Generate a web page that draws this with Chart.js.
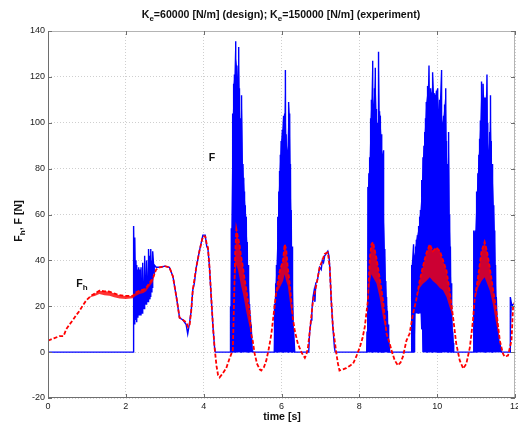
<!DOCTYPE html>
<html>
<head>
<meta charset="utf-8">
<title>F and Fh vs time</title>
<script src="https://cdn.jsdelivr.net/npm/chart.js@4.4.0/dist/chart.umd.min.js"></script>
<style>
  html, body { margin: 0; padding: 0; overflow: hidden; background: #fff; }
  #wrap { position: relative; width: 530px; height: 425px; }
</style>
</head>
<body>
<div id="wrap"><canvas id="chart" width="530" height="425"></canvas></div>
<script>
// F (blue): at each time the trace runs from fFloor up to fPeak (dense oscillation bursts)
const fTime = [
  0, 2.19, 2.20, 2.23, 2.26, 2.28, 2.31, 2.33, 2.36, 2.39, 2.42, 2.44, 2.47, 2.49, 2.52, 2.54, 2.57, 2.59, 2.62, 2.64, 2.67, 2.69, 2.73,
  2.78, 2.9, 3.0, 3.12, 3.21, 3.30, 3.38, 3.47, 3.55, 3.59, 3.63, 3.68, 3.72, 3.76, 3.81, 3.89, 3.98, 4.04, 4.08, 4.11, 4.15, 4.20, 4.24, 4.28, 4.30, 4.68,
  4.69, 4.71, 4.735, 4.75, 4.77, 4.79, 4.81, 4.83, 4.855, 4.88, 4.90, 4.92, 4.94, 4.96, 4.98, 5.01, 5.03, 5.05, 5.07, 5.095, 5.12, 5.14, 5.16, 5.18, 5.20, 5.22, 5.25, 5.27, 5.80,
  5.82, 5.85, 5.87, 5.89, 5.91, 5.93, 5.95, 5.97, 5.99, 6.02, 6.04, 6.06, 6.08, 6.10, 6.12, 6.15, 6.17, 6.19, 6.21, 6.23, 6.25, 6.27, 6.29, 6.31, 6.34, 6.70,
  6.72, 6.76, 6.78, 6.81, 6.84, 6.86, 6.88, 6.92, 6.95, 6.98, 7.02, 7.05, 7.08, 7.11, 7.15, 7.19, 7.22, 7.24, 7.28, 7.32, 7.36, 7.38, 8.17,
  8.196, 8.22, 8.245, 8.265, 8.29, 8.31, 8.33, 8.35, 8.37, 8.39, 8.41, 8.44, 8.46, 8.48, 8.50, 8.52, 8.54, 8.565, 8.58, 8.61, 8.63, 8.655, 8.68, 8.70, 8.72, 8.74, 8.76, 8.78, 9.33,
  9.34, 9.35, 9.38, 9.40, 9.42, 9.445, 9.465, 9.49, 9.51, 9.53, 9.55, 9.57, 9.59, 9.61, 9.635, 9.66, 9.68, 9.70, 9.72, 9.74, 9.76, 9.79, 9.81, 9.83, 9.85, 9.87, 9.89, 9.92, 9.95, 9.98,
  10.00, 10.02, 10.05, 10.07, 10.10, 10.12, 10.14, 10.165, 10.19, 10.22, 10.24, 10.26, 10.28, 10.30, 10.32, 10.34, 10.36, 10.38, 10.40, 10.42, 10.43, 10.93,
  10.94, 10.96, 10.98, 11.00, 11.02, 11.045, 11.07, 11.09, 11.11, 11.14, 11.16, 11.18, 11.21, 11.23, 11.25, 11.28, 11.30, 11.32, 11.35, 11.37,
  11.39, 11.41, 11.43, 11.455, 11.48, 11.50, 11.52, 11.56, 11.61, 11.65, 11.87, 11.88, 11.92, 11.96,
];
const fFloor = [
  0, 0, 0, 12, 14, 13, 15, 16, 16, 16, 17, 18, 19, 20, 21, 21, 22, 22, 23, 24, 26, 28, 34,
  37, 37, 37.5, 37, 33, 24, 15, 14, 12, 8, 12, 18, 27, 30, 37, 44, 51, 51, 46, 45, 37, 22, 11, 2, 0, 0,
  0, 0, 0, 0, 0, 0, 0, 0, 0, 0, 0, 0, 0, 0, 0, 0, 0, 0, 0, 0, 0, 0, 0, 0, 0, 0, 0, 0, 0,
  0, 0, 0, 0, 0, 0, 0, 0, 0, 0, 0, 0, 0, 0, 0, 0, 0, 0, 0, 0, 0, 0, 0, 0, 0, 0,
  8, 14, 18, 24, 27, 22, 30, 31, 34, 37, 36, 40, 39, 42, 43, 44, 42, 37, 22, 11, 2, 0, 0,
  0, 0, 0, 0, 0, 0, 0, 0, 0, 0, 0, 0, 0, 0, 0, 0, 0, 0, 0, 0, 0, 0, 0, 0, 0, 0, 0, 0, 0,
  0, 0, 0, 0, 0, 17, 17, 17, 17, 17, 17, 17, 17, 10, 0, 0, 0, 0, 0, 0, 0, 0, 0, 0, 0, 0, 0, 0, 0, 0,
  0, 0, 0, 0, 0, 0, 0, 0, 0, 0, 0, 0, 0, 0, 0, 0, 0, 0, 0, 0, 0, 0,
  0, 0, 0, 0, 0, 0, 0, 0, 0, 0, 0, 0, 0, 0, 0, 0, 0, 0, 0, 0,
  0, 0, 0, 0, 0, 0, 0, 0, 0, 0, 0, 0, 20, 21,
];
const fPeak = [
  0, 0, 55, 50, 40, 38, 36, 37, 36, 37, 39, 38, 42, 41, 38, 40, 44, 45, 42, 45, 40, 44, 38,
  37, 37, 37.5, 37, 33, 24, 15, 14, 12, 8, 12, 18, 27, 30, 37, 44, 51, 51, 46, 45, 37, 22, 11, 2, 0, 0,
  20, 54, 91, 104, 117, 121, 135.5, 128, 125, 120, 133, 115, 102, 98, 112, 82, 76, 70, 64, 59, 48, 38, 30, 21, 16, 12, 1, 0, 0,
  21, 30, 38, 48, 59, 70, 79, 86, 92, 97, 103, 100, 104, 123, 95, 88, 100, 109, 104, 82, 62, 46, 28, 10, 0, 0,
  8, 14, 18, 24, 27, 22, 30, 31, 34, 37, 36, 40, 39, 42, 43, 44, 42, 37, 22, 11, 2, 0, 0,
  9, 72, 78, 85, 102, 110, 127, 112, 108, 115, 124, 106, 100, 98, 131, 105, 103, 95, 86, 88, 59, 45, 31, 24, 18, 12, 6, 0, 0,
  20, 38, 47, 44, 42, 46, 49, 51, 53, 55, 59, 62, 67, 75, 85, 90, 96, 102, 109, 112, 116, 125, 111, 115, 113, 116, 122, 113, 112, 114,
  115, 112, 105, 110, 123, 104, 100, 103, 108, 115, 92, 82, 75, 96, 60, 46, 30, 17, 9, 4, 0, 0,
  53, 52, 53, 62, 70, 78, 86, 93, 101, 118, 110, 117, 111, 108, 111, 121, 100, 88, 96, 112,
  92, 82, 76, 64, 53, 38, 24, 9, 4, 0, 0, 24, 20, 21,
];

// Fh (red, dashed): upper and lower edge of the noisy trace
const fhTime = [
  0, 0.15, 0.3, 0.4, 0.47, 0.55, 0.64, 0.72, 0.81, 0.9,
  0.98, 1.1, 1.2, 1.32, 1.45, 1.58, 1.7, 1.84, 2.0, 2.18,
  2.25, 2.35, 2.45, 2.52, 2.6, 2.69, 2.78, 2.87, 3.0, 3.12,
  3.21, 3.3, 3.38, 3.47, 3.55, 3.6, 3.64, 3.68, 3.72, 3.81,
  3.89, 3.98, 4.04, 4.08, 4.11, 4.15, 4.2, 4.24, 4.28, 4.33,
  4.37, 4.41, 4.48, 4.58, 4.66, 4.75, 4.78, 4.81, 4.84, 4.88,
  4.92, 4.96, 5.01, 5.05, 5.09, 5.14, 5.18, 5.22, 5.26, 5.31,
  5.37, 5.44, 5.48, 5.55, 5.61, 5.68, 5.74, 5.82, 5.86, 5.95,
  6.04, 6.08, 6.12, 6.16, 6.21, 6.25, 6.29, 6.34, 6.42, 6.51,
  6.56, 6.6, 6.64, 6.68, 6.72, 6.81, 6.9, 6.98, 7.05, 7.11,
  7.19, 7.24, 7.28, 7.32, 7.41, 7.45, 7.49, 7.58, 7.66, 7.75,
  7.84, 7.92, 8.01, 8.08, 8.14, 8.22, 8.27, 8.31, 8.35, 8.44,
  8.52, 8.61, 8.7, 8.78, 8.84, 8.91, 8.99, 9.06, 9.12, 9.21,
  9.29, 9.38, 9.46, 9.55, 9.63, 9.72, 9.81, 9.89, 9.98, 10.07,
  10.15, 10.24, 10.32, 10.41, 10.49, 10.58, 10.67, 10.75, 10.84, 10.92,
  10.96, 11.05, 11.14, 11.22, 11.28, 11.35, 11.43, 11.52, 11.61, 11.69,
  11.73, 11.82, 11.91, 11.95, 12,
];
const fhUpper = [
  5, 6, 7, 7, 10, 12, 14, 16, 18, 20.5,
  22.5, 24.5, 25.5, 26.8, 26.5, 26.4, 25.6, 24.8, 24.5, 24.5,
  26, 26.8, 27.2, 28, 30, 32, 36, 37, 37.5, 37,
  33, 24, 15, 14, 13, 11, 12, 18, 27, 37,
  44, 50.5, 50.5, 47, 45.6, 37, 22.5, 11, 2, -6,
  -10, -11, -9.5, -7, -3, 1, 22, 43, 53.6, 50,
  47, 42, 37, 32, 28, 22, 18, 8, 5, -0.6,
  -5, -7.5, -8, -6.5, -3.6, 2, 8, 19.6, 25.5, 35,
  40, 47, 45, 37, 30, 22.5, 15, 9.4, 3.7, 0,
  -1.5, -2.5, -1, 2, 8, 22.5, 29.7, 37, 40, 42.8,
  43.5, 37, 22.5, 11, -0.6, -5, -8, -7.5, -7, -6,
  -5, -2, 2, 6, 11, 22.5, 41, 47, 48, 41,
  32.6, 22.5, 8, 3.7, 0, -3.6, -5.8, -4.5, -2, 5,
  8, 16.8, 22.5, 31, 37, 43, 47, 44, 45.6, 44,
  40, 35.5, 26.8, 15, 3.7, -3.6, -7.2, -5, 2, 13.8,
  22.5, 32.6, 44, 48, 44, 37, 28, 18, 5, -0.6,
  -2, -1.5, 5, 19.6, 22,
];
const fhLower = [
  5, 6, 7, 7, 10, 12, 14, 16, 18, 20.5,
  22.5, 24, 24.5, 25.3, 24.8, 24.6, 23.9, 23.4, 23.2, 23.5,
  24.5, 25.3, 25.8, 26.5, 28.5, 30.5, 36, 37, 37.5, 37,
  33, 24, 15, 14, 13, 11, 12, 18, 27, 37,
  44, 50.5, 50.5, 47, 45.6, 37, 22.5, 11, 2, -6,
  -10, -11, -9.5, -7, -3, 1, 22, 33, 38, 36,
  32.5, 29, 25.5, 22, 18, 14, 11, 8, 5, -0.6,
  -5, -7.5, -8, -6.5, -3.6, 2, 8, 19.6, 25.5, 28,
  31, 34, 31, 29, 22.5, 18, 15, 9.4, 3.7, 0,
  -1.5, -2.5, -1, 2, 8, 22.5, 29.7, 37, 40, 42.8,
  43.5, 37, 22.5, 11, -0.6, -5, -8, -7.5, -7, -6,
  -5, -2, 2, 6, 11, 22.5, 30, 34, 32.6, 30,
  24, 15, 8, 3.7, 0, -3.6, -5.8, -4.5, -2, 5,
  8, 16.8, 22.5, 28, 29.7, 31, 32.6, 31, 29.7, 28,
  27, 24, 19.6, 15, 3.7, -3.6, -7.2, -5, 2, 13.8,
  22.5, 28, 31, 32.6, 30, 27, 21, 12, 5, -0.6,
  -2, -1.5, 5, 19.6, 22,
];

const xTicks = [0, 2, 4, 6, 8, 10, 12];
const yTicks = [-20, 0, 20, 40, 60, 80, 100, 120, 140];

const FONT = "'Liberation Sans', Arial, Helvetica, sans-serif";

// F: go up from the floor to the peak at each sample
const fPoints = [];
fTime.forEach((t, i) => {
  fPoints.push({ x: t, y: fFloor[i] });
  if (fPeak[i] !== fFloor[i]) fPoints.push({ x: t, y: fPeak[i] });
});
// solid body of the later bursts (the first burst near 2.2 s stays open)
const fPeakPoints = fTime.map((t, i) => ({ x: t, y: fPeak[i] })).filter((p) => p.x >= 4.6);
const fFloorPoints = fTime.map((t, i) => ({ x: t, y: fFloor[i] })).filter((p) => p.x >= 4.6);
const fhUpperPoints = fhTime.map((t, i) => ({ x: t, y: fhUpper[i] }));
const fhLowerPoints = fhTime.map((t, i) => ({ x: t, y: fhLower[i] }));

// text with subscripts, parts = [[text, isSub], ...], centred on (cx, cy)
function drawRich(c, parts, cx, cy, size, weight) {
  const subSize = Math.round(size * 0.75);
  const widths = parts.map(([txt, sub]) => {
    c.font = `${weight} ${sub ? subSize : size}px ${FONT}`;
    return c.measureText(txt).width;
  });
  const total = widths.reduce((a, b) => a + b, 0);
  let x = cx - total / 2;
  c.textAlign = 'left';
  c.textBaseline = 'middle';
  parts.forEach(([txt, sub], i) => {
    c.font = `${weight} ${sub ? subSize : size}px ${FONT}`;
    c.fillText(txt, x, cy + (sub ? size * 0.35 : 0));
    x += widths[i];
  });
}

const decorPlugin = {
  id: 'decor',
  afterDraw(chart) {
    const c = chart.ctx;
    const { left, right, top, bottom } = chart.chartArea;
    const xs = chart.scales.x;
    const ys = chart.scales.y;
    c.save();

    // axes box
    c.lineWidth = 1;
    c.strokeStyle = '#b4b4b4';
    c.beginPath();
    c.moveTo(left, top + 0.5); c.lineTo(right, top + 0.5);
    c.moveTo(right - 0.5, top); c.lineTo(right - 0.5, bottom);
    c.stroke();
    c.strokeStyle = '#6e6e6e';
    c.beginPath();
    c.moveTo(left + 0.5, top); c.lineTo(left + 0.5, bottom);
    c.moveTo(left, bottom - 0.5); c.lineTo(right, bottom - 0.5);
    c.stroke();

    // inward ticks
    c.beginPath();
    xTicks.forEach((v) => {
      const px = Math.round(xs.getPixelForValue(v)) + 0.5;
      c.moveTo(px, bottom); c.lineTo(px, bottom - 4);
      c.moveTo(px, top); c.lineTo(px, top + 4);
    });
    yTicks.forEach((v) => {
      const py = Math.round(ys.getPixelForValue(v)) + 0.5;
      c.moveTo(left, py); c.lineTo(left + 4, py);
      c.moveTo(right, py); c.lineTo(right - 4, py);
    });
    c.stroke();

    c.fillStyle = '#111';
    drawRich(c, [['K', false], ['e', true], ['=60000 [N/m] (design); K', false], ['e', true], ['=150000 [N/m] (experiment)', false]], 281, 15, 10.6, 'bold');
    drawRich(c, [['time [s]', false]], 282, 417, 10.6, 'bold');

    c.save();
    c.translate(19, 221);
    c.rotate(-Math.PI / 2);
    drawRich(c, [['F', false], ['h', true], [', F [N]', false]], 0, 0, 10.6, 'bold');
    c.restore();

    drawRich(c, [['F', false]], 212, 158, 10.6, 'bold');
    drawRich(c, [['F', false], ['h', true]], 82, 284, 10.6, 'bold');

    c.restore();
  },
};

new Chart(document.getElementById('chart'), {
  type: 'line',
  data: {
    datasets: [
      {
        label: 'Fh',
        data: fhUpperPoints,
        borderColor: '#ff0000',
        borderWidth: 1.8,
        borderDash: [4, 2],
        pointRadius: 0,
        fill: false,
      },
      {
        label: 'Fh lower',
        data: fhLowerPoints,
        borderColor: 'rgba(0,0,0,0)',
        borderWidth: 0,
        backgroundColor: 'rgba(255, 0, 0, 0.8)',
        pointRadius: 0,
        fill: '-1',
      },
      {
        label: 'F',
        data: fPoints,
        borderColor: '#0000ff',
        borderWidth: 1.4,
        pointRadius: 0,
        fill: false,
      },
      {
        label: 'F peak',
        data: fPeakPoints,
        borderColor: 'rgba(0,0,0,0)',
        borderWidth: 0,
        backgroundColor: '#0000ff',
        pointRadius: 0,
        fill: '+1',
      },
      {
        label: 'F floor',
        data: fFloorPoints,
        borderColor: 'rgba(0,0,0,0)',
        borderWidth: 0,
        pointRadius: 0,
        fill: false,
      },
    ],
  },
  options: {
    responsive: false,
    animation: false,
    layout: { padding: { left: 0, right: 15, top: 31, bottom: 0 } },
    plugins: {
      legend: { display: false },
      tooltip: { enabled: false },
      title: { display: false },
    },
    scales: {
      x: {
        type: 'linear',
        min: 0,
        max: 12,
        afterFit: (scale) => { scale.height = 27; },
        afterBuildTicks: (scale) => { scale.ticks = xTicks.map((v) => ({ value: v })); },
        ticks: { color: '#222', font: { family: FONT, size: 9 }, padding: 3, maxRotation: 0 },
        grid: { color: '#cfcfcf', drawTicks: false },
        border: { display: false, dash: [1, 2] },
      },
      y: {
        min: -20,
        max: 140,
        afterFit: (scale) => { scale.width = 48; },
        afterBuildTicks: (scale) => { scale.ticks = yTicks.map((v) => ({ value: v })); },
        ticks: { color: '#222', font: { family: FONT, size: 9 }, padding: 3 },
        grid: { color: '#cfcfcf', drawTicks: false },
        border: { display: false, dash: [1, 2] },
      },
    },
  },
  plugins: [decorPlugin],
});
</script>
</body>
</html>
